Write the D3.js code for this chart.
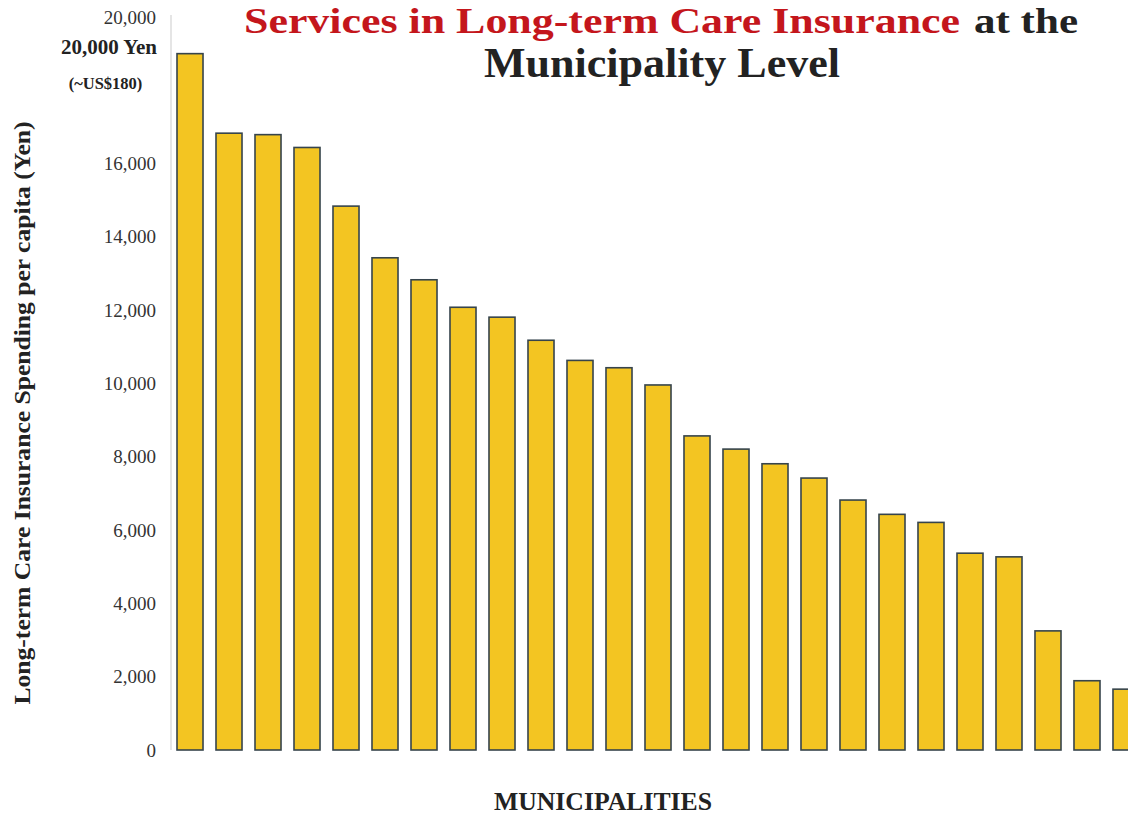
<!DOCTYPE html>
<html>
<head>
<meta charset="utf-8">
<script src="https://cdn.jsdelivr.net/npm/d3@7"></script>
<style>
  html, body { margin: 0; padding: 0; background: #ffffff; }
  svg { display: block; }
  text { font-family: "Liberation Serif", "DejaVu Serif", serif; }
</style>
</head>
<body>
<svg id="chart" width="1128" height="817"></svg>
<script>
// ---- Data ----
const municipalities = d3.range(1, 26).map(i => "M" + i);
const spending = [19000, 16830, 16790, 16440, 14840, 13430, 12830, 12080, 11810, 11180,
                  10630, 10430, 9960, 8570, 8210, 7810, 7420, 6820, 6430, 6210,
                  5370, 5270, 3250, 1890, 1660];
const yTicks = [0, 2000, 4000, 6000, 8000, 10000, 12000, 14000, 16000, 20000];

const titleRed = "Services in Long-term Care Insurance";
const titleDark = "at the";
const titleLine2 = "Municipality Level";
const yLabel = "Long-term Care Insurance Spending per capita (Yen)";
const xLabel = "MUNICIPALITIES";

// ---- Layout ----
const svg = d3.select("#chart");
const y = d3.scaleLinear().domain([0, 20000]).range([750, 17]);
const x = d3.scaleBand().domain(municipalities)
  .range([170.5, 1145.5]).paddingInner(0.333).paddingOuter(0.1667);

// faint axis line
svg.append("line")
  .attr("x1", 171).attr("x2", 171)
  .attr("y1", y(20000) - 2).attr("y2", y(0))
  .attr("stroke", "#d4d4d4").attr("stroke-width", 1.2);

// y axis labels
const yAxis = d3.axisLeft(y).tickValues(yTicks)
  .tickFormat(d3.format(",")).tickSize(0).tickPadding(0);
const gy = svg.append("g").attr("transform", "translate(156,0)").call(yAxis);
gy.select(".domain").remove();
gy.selectAll("text")
  .attr("font-family", "Liberation Serif, serif")
  .attr("font-size", 19).attr("fill", "#333");

// extra annotations near top of axis
svg.append("text").attr("x", 157).attr("y", 54)
  .attr("text-anchor", "end").attr("font-weight", "bold")
  .attr("font-size", 21).attr("fill", "#222").text("20,000 Yen");
svg.append("text").attr("x", 105.5).attr("y", 89)
  .attr("text-anchor", "middle").attr("font-weight", "bold")
  .attr("font-size", 16.5).attr("fill", "#222").text("(~US$180)");

// bars
svg.append("g").selectAll("rect")
  .data(spending)
  .join("rect")
  .attr("x", (d, i) => x(municipalities[i]))
  .attr("y", d => y(d))
  .attr("width", x.bandwidth())
  .attr("height", d => y(0) - y(d))
  .attr("fill", "#f3c522")
  .attr("stroke", "#36444c")
  .attr("stroke-width", 1.6);

// title
svg.append("text").attr("x", 244).attr("y", 33)
  .attr("font-weight", "bold").attr("font-size", 36)
  .attr("fill", "#c4161c")
  .attr("textLength", 716).attr("lengthAdjust", "spacingAndGlyphs")
  .text(titleRed);
svg.append("text").attr("x", 974).attr("y", 33)
  .attr("font-weight", "bold").attr("font-size", 36)
  .attr("fill", "#222")
  .attr("textLength", 104).attr("lengthAdjust", "spacingAndGlyphs")
  .text(titleDark);
svg.append("text").attr("x", 484).attr("y", 77)
  .attr("font-weight", "bold").attr("font-size", 43)
  .attr("fill", "#222")
  .attr("textLength", 356).attr("lengthAdjust", "spacingAndGlyphs")
  .text(titleLine2);

// y label
svg.append("text")
  .attr("transform", "translate(30,413) rotate(-90)")
  .attr("text-anchor", "middle").attr("font-weight", "bold")
  .attr("font-size", 23).attr("fill", "#222")
  .attr("textLength", 583).attr("lengthAdjust", "spacingAndGlyphs")
  .text(yLabel);

// x label
svg.append("text").attr("x", 603).attr("y", 810)
  .attr("text-anchor", "middle").attr("font-weight", "bold")
  .attr("font-size", 25).attr("fill", "#222")
  .attr("textLength", 218).attr("lengthAdjust", "spacingAndGlyphs")
  .text(xLabel);
</script>
</body>
</html>
